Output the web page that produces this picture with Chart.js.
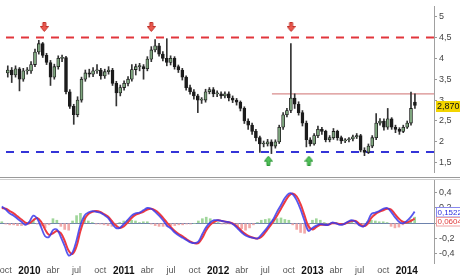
<!DOCTYPE html>
<html><head><meta charset="utf-8">
<script src="https://cdn.jsdelivr.net/npm/chart.js@4"></script>
<style>
html,body{margin:0;padding:0;background:#fff;}
#wrap{position:relative;width:460px;height:277px;overflow:hidden;}
#c1{position:absolute;left:0;top:0;}
#c2{position:absolute;left:0;top:179px;}
</style></head><body>
<div id="wrap"><canvas id="c1" width="460" height="178"></canvas><canvas id="c2" width="460" height="98"></canvas></div>
<script>
const dates=['2009-09-16','2009-10-01','2009-10-16','2009-11-01','2009-11-16','2009-12-01','2009-12-16',
'2010-01-01','2010-01-16','2010-02-01','2010-02-16','2010-03-01','2010-03-16','2010-04-01','2010-04-16','2010-05-01','2010-05-16','2010-06-01','2010-06-16','2010-07-01','2010-07-16','2010-08-01','2010-08-16','2010-09-01','2010-09-16','2010-10-01','2010-10-16','2010-11-01','2010-11-16','2010-12-01','2010-12-16',
'2011-01-01','2011-01-16','2011-02-01','2011-02-16','2011-03-01','2011-03-16','2011-04-01','2011-04-16','2011-05-01','2011-05-16','2011-06-01','2011-06-16','2011-07-01','2011-07-16','2011-08-01','2011-08-16','2011-09-01','2011-09-16','2011-10-01','2011-10-16','2011-11-01','2011-11-16','2011-12-01','2011-12-16',
'2012-01-01','2012-01-16','2012-02-01','2012-02-16','2012-03-01','2012-03-16','2012-04-01','2012-04-16','2012-05-01','2012-05-16','2012-06-01','2012-06-16','2012-07-01','2012-07-16','2012-08-01','2012-08-16','2012-09-01','2012-09-16','2012-10-01','2012-10-16','2012-11-01','2012-11-16','2012-12-01','2012-12-16',
'2013-01-01','2013-01-16','2013-02-01','2013-02-16','2013-03-01','2013-03-16','2013-04-01','2013-04-16','2013-05-01','2013-05-16','2013-06-01','2013-06-16','2013-07-01','2013-07-16','2013-08-01','2013-08-16','2013-09-01','2013-09-16','2013-10-01','2013-10-16','2013-11-01','2013-11-16','2013-12-01','2013-12-16',
'2014-01-01','2014-01-16','2014-02-01'];

const open=[3.65,3.72,3.60,3.75,3.50,3.70,3.70,3.85,4.15,4.35,4.07,3.90,3.55,3.80,4.00,4.02,3.20,2.85,2.65,3.00,
3.50,3.65,3.62,3.70,3.72,3.58,3.68,3.72,3.40,3.17,3.30,3.40,3.50,3.73,3.80,3.80,3.75,3.98,4.20,4.30,
4.10,4.00,3.90,4.00,3.80,3.72,3.55,3.30,3.20,3.10,3.00,3.00,3.20,3.25,3.15,3.15,3.10,3.15,3.05,3.00,
2.95,2.80,2.50,2.40,2.25,2.10,1.95,1.95,2.00,1.90,2.00,2.35,2.65,2.75,3.05,2.90,2.70,2.45,2.05,1.95,
2.15,2.30,2.25,2.05,2.10,2.25,2.10,2.02,2.05,2.07,2.12,2.15,1.80,1.75,1.90,2.10,2.45,2.50,2.35,2.55,
2.35,2.30,2.25,2.35,2.45,2.95];
const high=[3.82,3.78,3.82,3.78,3.76,3.78,3.92,4.22,4.43,4.38,4.12,3.95,3.86,4.06,4.08,4.05,3.25,2.90,3.08,3.55,
3.72,3.74,3.78,3.85,3.76,3.74,3.80,3.76,3.45,3.36,3.46,3.56,3.85,3.86,3.88,3.85,4.04,4.28,4.45,4.36,
4.16,4.47,4.06,4.04,3.84,3.76,3.58,3.36,3.25,3.14,3.06,3.26,3.30,3.30,3.22,3.20,3.20,3.20,3.10,3.04,
2.98,2.84,2.55,2.45,2.30,2.14,2.02,2.06,2.05,2.05,2.40,2.70,2.80,4.35,3.15,2.96,2.75,2.50,2.10,2.20,
2.38,2.35,2.28,2.15,2.32,2.28,2.14,2.08,2.10,2.16,2.20,2.18,1.86,1.95,2.15,2.68,2.56,2.55,2.80,2.58,
2.40,2.34,2.40,2.50,3.19,3.15];
const low=[3.55,3.42,3.55,3.22,3.45,3.62,3.64,3.80,4.10,4.02,3.85,3.35,3.50,3.74,3.92,3.15,2.80,2.42,2.60,2.95,
3.45,3.55,3.56,3.64,3.50,3.52,3.62,3.35,2.86,3.10,3.24,3.34,3.45,3.60,3.70,3.50,3.70,3.92,4.15,4.05,
3.94,3.82,3.84,3.74,3.66,3.48,3.24,3.14,3.02,2.70,2.92,2.95,3.15,3.08,3.08,3.04,3.05,2.98,2.94,2.88,
2.74,2.44,2.30,2.18,2.02,1.75,1.88,1.90,1.72,1.85,1.96,2.30,2.60,2.70,2.80,2.64,2.38,1.88,1.90,1.92,
2.10,2.18,2.00,2.00,2.06,2.04,1.96,1.98,2.00,2.02,2.08,1.76,1.67,1.72,1.86,2.05,2.40,2.28,2.30,2.30,
2.22,2.18,2.22,2.32,2.40,2.80];
const close=[3.72,3.60,3.75,3.50,3.70,3.70,3.85,4.15,4.35,4.07,3.90,3.55,3.80,4.00,4.02,3.20,2.85,2.65,3.00,3.50,
3.65,3.62,3.70,3.72,3.58,3.68,3.72,3.40,3.17,3.30,3.40,3.50,3.73,3.80,3.80,3.75,3.98,4.20,4.30,4.10,
4.00,3.90,4.00,3.80,3.72,3.55,3.30,3.20,3.10,3.00,3.00,3.20,3.25,3.15,3.15,3.10,3.15,3.05,3.00,2.95,
2.80,2.50,2.40,2.25,2.10,1.95,1.95,2.00,1.90,2.00,2.35,2.65,2.75,3.05,2.90,2.70,2.45,2.05,1.95,2.15,
2.30,2.25,2.05,2.10,2.25,2.10,2.02,2.05,2.07,2.12,2.15,1.80,1.75,1.90,2.10,2.45,2.50,2.35,2.55,2.35,
2.30,2.25,2.35,2.45,2.80,2.87];

const macd=[0.22,0.18,0.13,0.10,0.06,0.02,-0.02,0.02,0.10,0.06,-0.05,-0.17,-0.18,-0.09,-0.08,-0.18,-0.30,-0.42,-0.38,-0.22,
-0.02,0.10,0.14,0.16,0.15,0.14,0.11,0.07,0.00,-0.06,-0.06,-0.01,0.04,0.10,0.13,0.14,0.17,0.20,0.19,0.15,
0.10,0.04,-0.03,-0.07,-0.12,-0.16,-0.19,-0.22,-0.25,-0.26,-0.24,-0.14,-0.05,0.01,0.04,0.04,0.03,0.02,0.01,-0.02,
-0.07,-0.12,-0.16,-0.18,-0.19,-0.20,-0.15,-0.09,-0.02,0.05,0.15,0.24,0.33,0.39,0.38,0.30,0.18,0.03,-0.10,-0.06,
-0.03,-0.01,-0.02,-0.02,0.01,0.00,-0.02,-0.01,0.02,0.04,0.02,-0.03,-0.04,0.02,0.12,0.14,0.16,0.19,0.20,0.15,
0.08,0.02,0.00,0.03,0.08,0.1522];
const signal=[0.20,0.19,0.16,0.13,0.09,0.05,0.01,0.00,0.04,0.07,0.02,-0.08,-0.15,-0.13,-0.10,-0.13,-0.23,-0.36,-0.40,-0.30,
-0.10,0.05,0.12,0.15,0.16,0.15,0.12,0.09,0.03,-0.03,-0.06,-0.04,0.01,0.07,0.11,0.13,0.15,0.18,0.19,0.17,
0.13,0.07,0.01,-0.05,-0.10,-0.14,-0.17,-0.21,-0.24,-0.26,-0.26,-0.19,-0.09,-0.02,0.02,0.04,0.03,0.02,0.01,-0.01,
-0.05,-0.10,-0.14,-0.17,-0.19,-0.20,-0.18,-0.12,-0.05,0.02,0.10,0.19,0.28,0.36,0.39,0.35,0.25,0.10,-0.04,-0.08,
-0.05,-0.02,-0.02,-0.02,0.00,0.00,-0.01,-0.01,0.01,0.03,0.03,-0.01,-0.04,-0.01,0.07,0.12,0.15,0.17,0.19,0.18,
0.12,0.06,0.02,0.01,0.03,0.06];
const hist=[0.02,-0.01,-0.02,-0.02,-0.03,-0.03,-0.02,0.02,0.04,-0.01,-0.03,-0.06,-0.02,0.06,0.04,-0.04,-0.08,-0.09,0.03,0.10,
0.13,0.08,0.03,0.01,-0.01,-0.01,-0.02,-0.03,-0.04,-0.03,0.01,0.03,0.04,0.04,0.03,0.01,0.02,0.02,-0.01,-0.03,
-0.04,-0.04,-0.04,-0.03,-0.03,-0.02,-0.02,-0.01,-0.01,0.00,0.03,0.06,0.08,0.06,0.03,0.01,-0.01,-0.01,-0.01,-0.02,
-0.04,-0.07,-0.09,-0.06,-0.02,0.01,0.04,0.05,0.06,0.05,0.06,0.07,0.05,0.04,-0.02,-0.08,-0.12,-0.13,-0.08,0.04,
0.06,0.04,0.01,-0.01,0.01,0.01,-0.01,0.00,0.02,0.02,-0.01,-0.03,-0.02,0.02,0.04,0.03,0.02,0.02,0.01,-0.04,
-0.06,-0.05,-0.02,0.02,0.05,0.08];

const priceTicks=[1.5,2,2.5,3,3.5,4,4.5,5];
const macdTicks=[-0.4,-0.2,0,0.2,0.4];
const xTickDates=['2009-10-01','2010-01-01','2010-04-01','2010-07-01','2010-10-01','2011-01-01','2011-04-01','2011-07-01','2011-10-01',
'2012-01-01','2012-04-01','2012-07-01','2012-10-01','2013-01-01','2013-04-01','2013-07-01','2013-10-01','2014-01-01'];
const xTickLabels=['oct','2010','abr','jul','oct','2011','abr','jul','oct','2012','abr','jul','oct','2013','abr','jul','oct','2014'];
const xRange=['2009-09-09','2014-04-15'];
const priceRange=[1.279,5.252];
const macdRange=[-0.519,0.579];
const resistanceTop=4.5, supportLevel=1.76;
const resistanceLevel=3.15, resistanceFrom='2012-07-18';
const sellArrows=['2010-02-07','2011-04-01','2012-10-02'], sellArrowLevel=4.75;
const buyArrows=['2012-07-04','2012-12-11'], buyArrowLevel=1.55;
const lastPrice=2.870, lastMacd=0.1522, lastSignal=0.0604;

function toM(s){const p=s.split('-').map(Number);return (p[0]-2009)*12+(p[1]-1)+(p[2]-1)/30.5;}
function fmt(v,dec){let s=(dec!=null?v.toFixed(dec):String(+v.toFixed(4)));return s.replace('.',',');}
const xMin=toM(xRange[0]), xMax=toM(xRange[1]);
const FONT='"Liberation Sans", Arial, sans-serif';

function arrowCanvas(down,fill,stroke){
  const c=document.createElement('canvas');c.width=9;c.height=10;const g=c.getContext('2d');
  g.save();
  if(!down){g.translate(0,10);g.scale(1,-1);}
  g.beginPath();
  g.moveTo(3,0.5);g.lineTo(6,0.5);g.lineTo(6,4.5);g.lineTo(8.5,4.5);g.lineTo(4.5,9.5);g.lineTo(0.5,4.5);g.lineTo(3,4.5);g.closePath();
  g.fillStyle=fill;g.fill();g.strokeStyle=stroke;g.lineWidth=1;g.stroke();
  g.restore();
  return c;
}
const redArrow=arrowCanvas(true,'#ec5a4f','#c0302a');
const greenArrow=arrowCanvas(false,'#52c15a','#2f9a38');

const xs=dates.map(toM);
const upCol='#7fa67f', downCol='#1c1c1c', edge='#1c1c1c';

const yAxisFit=function(axis){axis.width=26;axis.paddingTop=0;axis.paddingBottom=0;};
const xAxisFit=function(axis){axis.height=14;axis.paddingLeft=0;axis.paddingRight=0;};

const overlay1={id:'overlay1',afterDraw(chart){
  const g=chart.ctx, y=chart.scales.y, a=chart.chartArea;
  g.save();
  const py=Math.round(y.getPixelForValue(lastPrice));
  g.fillStyle='#f3d500';g.fillRect(a.right+2,py-5,460-a.right-2,11);
  g.fillStyle='#111';g.font='9px '+FONT;g.textBaseline='middle';g.textAlign='left';
  g.fillText(fmt(lastPrice,3),a.right+3,py+0.5);
  g.strokeStyle='#9a9a9a';g.lineWidth=1;g.beginPath();g.moveTo(0,177.5);g.lineTo(460,177.5);g.stroke();
  g.restore();
}};
const overlay2={id:'overlay2',afterDraw(chart){
  const g=chart.ctx, y=chart.scales.y, a=chart.chartArea;
  g.save();
  g.strokeStyle='#cfcfcf';g.lineWidth=1;g.beginPath();g.moveTo(0,0.5);g.lineTo(460,0.5);g.stroke();
  const py=Math.round(y.getPixelForValue(lastMacd));
  const bx=a.right+2.5, bw=460-a.right-2;
  g.font='8px '+FONT;g.textBaseline='middle';g.textAlign='left';
  g.fillStyle='#fff';g.fillRect(bx,py-5,bw,10);
  g.strokeStyle='#8a8af0';g.strokeRect(bx,py-4.5,bw,9.5);
  g.fillStyle='#2e2ee0';g.fillText(fmt(lastMacd,4),bx+1,py+0.5);
  g.fillStyle='#fff';g.fillRect(bx,py+5,bw,9);
  g.strokeStyle='#f0a0a0';g.strokeRect(bx,py+5.5,bw,8.5);
  g.fillStyle='#e03a3a';g.fillText(fmt(lastSignal,4),bx+1,py+10);
  g.restore();
}};

new Chart(document.getElementById('c1'),{
  type:'bar',
  data:{datasets:[
    {type:'line',data:[{x:xMin,y:resistanceTop},{x:xMax,y:resistanceTop}],borderColor:'#e2363c',borderWidth:2,borderDash:[8,7],pointRadius:0,order:5},
    {type:'line',data:[{x:xMin,y:supportLevel},{x:xMax,y:supportLevel}],borderColor:'#3434d8',borderWidth:2,borderDash:[8,7],pointRadius:0,order:5},
    {type:'line',data:[{x:toM(resistanceFrom),y:resistanceLevel},{x:xMax,y:resistanceLevel}],borderColor:'#d88c8c',borderWidth:1.2,pointRadius:0,order:4},
    {type:'bar',data:xs.map((x,i)=>({x:x,y:[low[i],high[i]]})),backgroundColor:'#333',barThickness:1,grouped:false,order:3},
    {type:'bar',data:xs.map((x,i)=>({x:x,y:[open[i],close[i]]})),
      backgroundColor:c=>close[c.dataIndex]>=open[c.dataIndex]?upCol:downCol,
      borderColor:edge,borderWidth:0.8,borderSkipped:false,barThickness:3,grouped:false,order:2,minBarLength:1},
    {type:'scatter',data:sellArrows.map(d=>({x:toM(d),y:sellArrowLevel})),pointStyle:redArrow,pointRadius:5,order:1},
    {type:'scatter',data:buyArrows.map(d=>({x:toM(d),y:buyArrowLevel})),pointStyle:greenArrow,pointRadius:5,order:1}
  ]},
  options:{responsive:false,devicePixelRatio:1,animation:false,
    layout:{padding:0},
    plugins:{legend:{display:false},tooltip:{enabled:false}},
    scales:{
      x:{type:'linear',min:xMin,max:xMax,offset:false,display:false},
      y:{position:'right',min:priceRange[0],max:priceRange[1],
        afterBuildTicks:a=>{a.ticks=priceTicks.map(v=>({value:v}));},
        afterFit:yAxisFit,
        ticks:{callback:v=>fmt(v),font:{size:9,family:FONT},color:'#444',padding:2},
        grid:{drawOnChartArea:false,tickLength:3,color:'#999'},
        border:{display:true,color:'#a0a0a0'}}
    }
  },
  plugins:[overlay1]
});

new Chart(document.getElementById('c2'),{
  type:'bar',
  data:{datasets:[
    {type:'bar',data:xs.map((x,i)=>({x:x,y:hist[i]})),backgroundColor:c=>hist[c.dataIndex]>=0?'#9fd69a':'#f2a9a9',barThickness:2,grouped:false,order:3},
    {type:'line',data:xs.map((x,i)=>({x:x,y:signal[i]})),borderColor:'#ee3b40',borderWidth:2,pointRadius:0,tension:0.35,order:2},
    {type:'line',data:xs.map((x,i)=>({x:x,y:macd[i]})),borderColor:'rgba(58,58,235,0.85)',borderWidth:1.8,pointRadius:0,tension:0.35,order:1}
  ]},
  options:{responsive:false,devicePixelRatio:1,animation:false,
    layout:{padding:0},
    plugins:{legend:{display:false},tooltip:{enabled:false}},
    scales:{
      x:{type:'linear',min:xMin,max:xMax,offset:false,
        afterBuildTicks:a=>{a.ticks=xTickDates.map(d=>({value:toM(d)}));},
        afterFit:xAxisFit,
        ticks:{autoSkip:false,maxRotation:0,padding:2,
          callback:(v,i)=>xTickLabels[i],
          font:c=>(/^\d+$/.test(xTickLabels[c.index]||'')?{size:10,weight:'bold',family:FONT}:{size:9,family:FONT}),
          color:c=>(/^\d+$/.test(xTickLabels[c.index]||'')?'#111':'#555')},
        grid:{display:false,drawTicks:false,tickLength:0},border:{display:false}},
      y:{position:'right',min:macdRange[0],max:macdRange[1],
        afterBuildTicks:a=>{a.ticks=macdTicks.map(v=>({value:v}));},
        afterFit:yAxisFit,
        ticks:{callback:v=>fmt(v),font:{size:9,family:FONT},color:'#444',padding:2},
        grid:{drawOnChartArea:true,tickLength:3,color:c=>(c.tick&&c.tick.value===0?'#6d82ad':'rgba(0,0,0,0)'),tickColor:'#999'},
        border:{display:true,color:'#a0a0a0'}}
    }
  },
  plugins:[overlay2]
});
</script>
</body></html>
